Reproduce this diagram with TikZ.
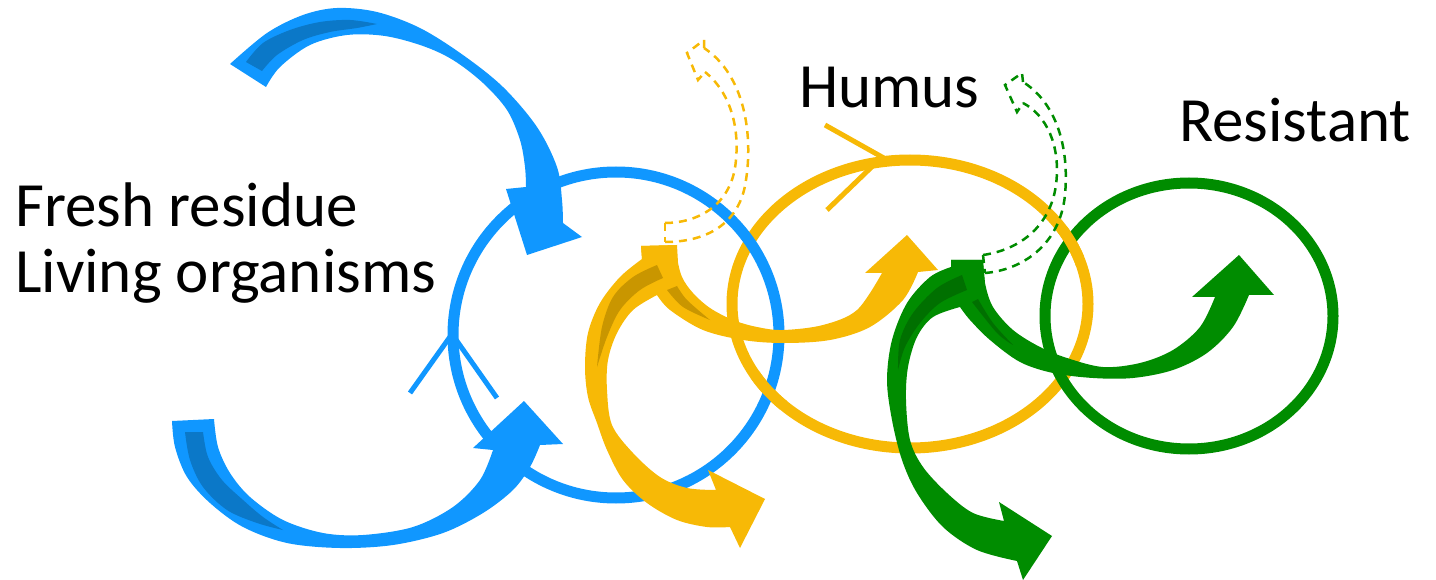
\documentclass[tikz,border=0pt]{standalone}
\usepackage{fontspec}
\setmainfont{Carlito}
\begin{document}
\begin{tikzpicture}[x=1pt,y=-1pt]
\definecolor{cb}{RGB}{16,151,255}
\definecolor{cbd}{RGB}{11,120,200}
\definecolor{cy}{RGB}{247,185,6}
\definecolor{cyd}{RGB}{201,150,0}
\definecolor{cg}{RGB}{0,140,0}
\definecolor{cgd}{RGB}{0,112,0}
\tikzset{
  ring/.style={line width=11pt},
  vhead/.style={line width=5pt},
  dashline/.style={line width=2.5pt, dash pattern=on 8pt off 6pt},
  lbl/.style={anchor=base west, font=\fontsize{63}{72}\selectfont, inner sep=0pt},
  sm/.style={smooth, tension=0.55}
}
\useasboundingbox (0,0) rectangle (1436,580);

% rings
\draw[ring, cy] (910,304) ellipse [x radius=178pt, y radius=144pt];
\draw[ring, cb] (616,335) circle [radius=163pt];
\draw[ring, cg] (1189,316) ellipse [x radius=144pt, y radius=133pt];
\begin{scope}
  \clip (768,391) circle [radius=22pt];
  \draw[ring, cy] (910,304) ellipse [x radius=178pt, y radius=144pt];
\end{scope}
\begin{scope}
  \clip (1063,248) circle [radius=22pt];
  \draw[ring, cy] (910,304) ellipse [x radius=178pt, y radius=144pt];
\end{scope}

% open arrowheads on rings
\draw[vhead, cb] (410,393) -- (452,334) -- (497,398);
\draw[vhead, cy] (825,125) -- (882,157) -- (827,210);

% blue top arrow
\fill[cb] plot[sm] coordinates {(230,64) (267,33) (303,15) (337,8) (377,12) (420,28) (463,55) (503,87) (537,127) (557,167) (562,200) (563,223)}
  -- (582,237) -- (527,255) -- (506,189)
  -- plot[sm] coordinates {(526,187) (525,167) (520,140) (507,110) (483,83) (453,60) (423,46) (385,36) (347,35) (310,45) (280,67) (266,87)}
  -- cycle;
\fill[cbd] plot[sm] coordinates {(246,62) (263,43) (290,30) (320,22) (350,20) (377,24)}
  -- plot[sm] coordinates {(377,24) (357,28) (330,32) (303,40) (277,55) (262,71)} -- cycle;

% blue bottom arrow
\fill[cb] plot[sm] coordinates {(172,421) (175,447) (187,477) (210,503) (243,527) (287,543) (340,548) (393,545) (443,533) (483,513) (513,490) (530,467) (540,445)}
  -- (563,444) -- (524,401) -- (473,448)
  -- plot[sm] coordinates {(493,450) (480,480) (453,507) (413,527) (363,535) (323,533) (283,520) (250,497) (230,473) (218,447) (214,419)}
  -- cycle;
\fill[cbd] plot[sm] coordinates {(185,432) (190,460) (203,487) (227,510) (257,523) (283,530)}
  -- plot[sm] coordinates {(283,530) (263,517) (243,500) (222,480) (208,457) (203,432)} -- cycle;

% yellow arrows
\fill[cy] (641,246) -- (677,245) -- (678,263) -- (657,295)
  -- plot[sm] coordinates {(657,295) (633,310) (617,333) (608,360) (607,390) (612,425) (633,453) (660,477) (687,488) (716,490)}
  -- (708,470) -- (765,499) -- (740,548)
  -- plot[sm] coordinates {(730,527) (707,527) (677,520) (647,503) (623,480) (607,450) (597,423) (588,397) (585,367) (588,333) (600,303) (620,277) (642,259)}
  -- cycle;
\fill[cy] (641,246) -- (677,245)
  -- plot[sm] coordinates {(677,245) (677,257) (682,277) (693,293) (710,308) (733,320) (757,327) (783,330) (823,325) (857,310) (882,273)}
  -- (865,273) -- (907,235) -- (938,270)
  -- plot[sm] coordinates {(918,272) (903,300) (870,327) (830,340) (783,343) (743,340) (703,330) (670,310) (657,295)}
  -- (642,259) -- cycle;
\fill[cyd] plot[sm] coordinates {(657,265) (633,277) (613,297) (602,327) (597,367)}
  -- plot[sm] coordinates {(597,367) (607,337) (620,310) (640,290) (663,278)} -- cycle;
\fill[cyd] plot[sm] coordinates {(677,286) (687,300) (710,320)}
  -- plot[sm] coordinates {(710,320) (683,307) (667,290)} -- cycle;

% green arrows
\fill[cg] (951,260) -- (983,260) -- (985,283) -- (960,307)
  -- plot[sm] coordinates {(960,307) (933,317) (917,337) (908,367) (906,400) (910,440) (923,467) (947,493) (973,513) (1004,521)}
  -- (999,502) -- (1052,536) -- (1023,580)
  -- plot[sm] coordinates {(1017,561) (977,550) (943,527) (917,493) (902,460) (892,420) (887,380) (892,340) (907,303) (930,277) (951,267)}
  -- cycle;
\fill[cg] (951,260) -- (983,260)
  -- plot[sm] coordinates {(983,260) (985,283) (993,307) (1013,330) (1040,347) (1067,358) (1103,367) (1140,363) (1173,350) (1200,327) (1215,297)}
  -- (1192,297) -- (1239,255) -- (1274,295)
  -- plot[sm] coordinates {(1249,295) (1233,327) (1207,353) (1173,370) (1133,378) (1093,378) (1053,373) (1020,362) (990,340) (970,320) (960,307)}
  -- (951,267) -- cycle;
\fill[cgd] plot[sm] coordinates {(962,275) (937,288) (913,313) (900,340) (898,370)}
  -- plot[sm] coordinates {(898,370) (905,347) (920,323) (940,303) (967,290)} -- cycle;
\fill[cgd] plot[sm] coordinates {(978,299) (993,323) (1013,345)}
  -- plot[sm] coordinates {(1013,345) (997,333) (972,302)} -- cycle;

% dashed yellow arrow
\draw[dashline, cy] (665,223) -- (665,242);
\draw[dashline, cy] (665,242) .. controls (705,242) and (740,225) .. (746,180)
  .. controls (753,135) and (745,75) .. (704,48);
\draw[dashline, cy] (665,223) .. controls (695,223) and (728,208) .. (735,168)
  .. controls (741,128) and (730,92) .. (705,72);
\draw[dashline, cy] (704,48) -- (704,40) -- (687,53) -- (698,80) -- (705,72);

% dashed green arrow
\draw[dashline, cg] (985,273) .. controls (1022,270) and (1060,245) .. (1065,195)
  .. controls (1070,140) and (1052,100) .. (1023,82);
\draw[dashline, cg] (983,255) .. controls (1018,250) and (1050,228) .. (1056,185)
  .. controls (1061,145) and (1046,115) .. (1023,103);
\draw[dashline, cg] (983,255) -- (985,273);
\draw[dashline, cg] (1023,82) -- (1022,73) -- (1005,85) -- (1017,112) -- (1023,103);

% labels
\node[lbl] (fresh) at (15,227) {Fresh residue};
\node[lbl] (living) at (15,293) {Living organisms};
\node[lbl] (humus) at (799,108) {Humus};
\node[lbl] (resistant) at (1179,142) {Resistant};
\end{tikzpicture}
\end{document}
